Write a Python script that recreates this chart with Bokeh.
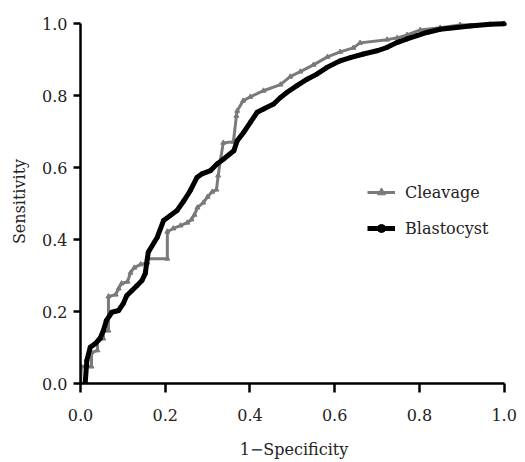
from bokeh.plotting import figure
from bokeh.models import Range1d, FixedTicker, PrintfTickFormatter, Legend, LegendItem
from bokeh.embed import file_html
from bokeh.resources import INLINE

# Cleavage ROC (1-specificity, sensitivity)
cleavage_fpr = [0.0, 0.002, 0.026, 0.026, 0.040, 0.040, 0.054, 0.054, 0.066, 0.066,
                0.083, 0.090, 0.097, 0.111, 0.118, 0.127, 0.142, 0.158, 0.158, 0.205,
                0.205, 0.219, 0.236, 0.252, 0.262, 0.269, 0.276, 0.290, 0.300, 0.311,
                0.321, 0.325, 0.330, 0.337, 0.361, 0.368, 0.370, 0.384, 0.401, 0.432,
                0.472, 0.495, 0.519, 0.550, 0.583, 0.613, 0.644, 0.660, 0.724, 0.748,
                0.771, 0.802, 0.849, 0.896, 1.0]
cleavage_tpr = [0.0, 0.047, 0.047, 0.086, 0.092, 0.119, 0.125, 0.147, 0.147, 0.242,
                0.247, 0.264, 0.278, 0.283, 0.308, 0.322, 0.331, 0.336, 0.347, 0.347,
                0.422, 0.431, 0.439, 0.447, 0.456, 0.469, 0.489, 0.503, 0.519, 0.533,
                0.539, 0.578, 0.619, 0.669, 0.672, 0.744, 0.758, 0.786, 0.797, 0.814,
                0.831, 0.853, 0.867, 0.886, 0.908, 0.922, 0.933, 0.947, 0.956, 0.961,
                0.969, 0.983, 0.989, 0.997, 1.0]

# Blastocyst ROC
blast_fpr = [0.011, 0.015, 0.023, 0.035, 0.046, 0.054, 0.061, 0.074, 0.090, 0.101,
             0.109, 0.121, 0.133, 0.145, 0.153, 0.156, 0.160, 0.181, 0.196, 0.212,
             0.228, 0.244, 0.259, 0.275, 0.287, 0.307, 0.322, 0.338, 0.362, 0.370,
             0.385, 0.401, 0.417, 0.432, 0.456, 0.472, 0.487, 0.511, 0.535, 0.558,
             0.582, 0.613, 0.637, 0.668, 0.700, 0.723, 0.747, 0.771, 0.794, 0.818,
             0.849, 0.888, 0.920, 0.967, 1.0]
blast_tpr = [0.0, 0.064, 0.101, 0.111, 0.125, 0.147, 0.175, 0.198, 0.203, 0.222,
             0.244, 0.258, 0.272, 0.286, 0.306, 0.333, 0.365, 0.406, 0.453, 0.467,
             0.481, 0.508, 0.536, 0.573, 0.583, 0.592, 0.610, 0.624, 0.647, 0.675,
             0.698, 0.726, 0.754, 0.763, 0.777, 0.795, 0.809, 0.828, 0.846, 0.860,
             0.879, 0.897, 0.906, 0.916, 0.925, 0.934, 0.948, 0.958, 0.967, 0.976,
             0.985, 0.990, 0.994, 0.999, 1.0]

ticks = [0.0, 0.2, 0.4, 0.6, 0.8, 1.0]
series_names = ["Cleavage", "Blastocyst"]

FONT = "DejaVu Serif"
TXT = "#222222"

p = figure(width=520, height=462, output_backend="svg", toolbar_location=None,
           x_range=Range1d(0, 1.008), y_range=Range1d(0, 1.012),
           min_border_left=80, min_border_right=13, min_border_top=19, min_border_bottom=79)
p.outline_line_color = None
p.grid.visible = False
p.background_fill_color = "white"

gray = "#7a7a7a"
l1 = p.line(cleavage_fpr, cleavage_tpr, line_color=gray, line_width=3)
s1 = p.scatter(cleavage_fpr, cleavage_tpr, marker="triangle", size=5,
               fill_color=gray, line_color=gray)
l2 = p.line(blast_fpr, blast_tpr, line_color="black", line_width=5, line_join="miter")
s2 = p.scatter(blast_fpr, blast_tpr, marker="circle", size=4,
               fill_color="black", line_color="black")

for ax in (p.xaxis[0], p.yaxis[0]):
    ax.ticker = FixedTicker(ticks=ticks)
    ax.formatter = PrintfTickFormatter(format="%.1f")
    ax.bounds = (0, 1)
    ax.axis_line_width = 2.5
    ax.axis_line_color = "black"
    ax.major_tick_line_width = 2.5
    ax.major_tick_line_color = "black"
    ax.minor_tick_line_color = None
    ax.major_tick_in = 0
    ax.major_label_text_font = FONT
    ax.major_label_text_font_size = "16px"
    ax.major_label_text_color = TXT
    ax.axis_label_text_font = FONT
    ax.axis_label_text_font_size = "16px"
    ax.axis_label_text_font_style = "normal"
    ax.axis_label_text_color = TXT

p.xaxis.axis_label = "1\u2212Specificity"
p.yaxis.axis_label = "Sensitivity"
p.xaxis.major_tick_out = 9
p.yaxis.major_tick_out = 7
p.xaxis.major_label_standoff = 16
p.yaxis.major_label_standoff = 6
p.xaxis.axis_label_standoff = 16
p.yaxis.axis_label_standoff = 10

legend = Legend(items=[LegendItem(label=series_names[0], renderers=[l1, s1]),
                       LegendItem(label=series_names[1], renderers=[l2, s2])],
                location=(287, 145), padding=0, spacing=16, glyph_width=28,
                glyph_height=20, label_height=20, label_standoff=10,
                background_fill_alpha=0, border_line_color=None,
                label_text_font=FONT, label_text_font_size="16px",
                label_text_color=TXT)
p.add_layout(legend)

open("out.html", "w").write(file_html(p, INLINE))
